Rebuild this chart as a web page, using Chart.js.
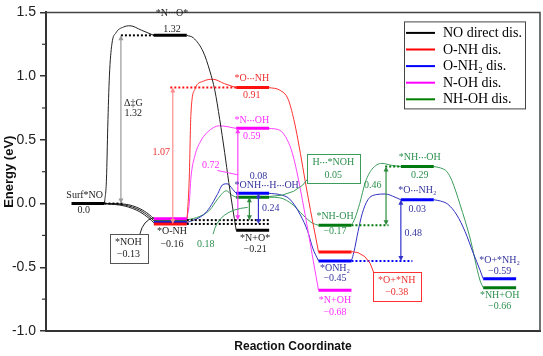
<!DOCTYPE html>
<html><head><meta charset="utf-8">
<script src="https://cdn.jsdelivr.net/npm/chart.js@4.4.0/dist/chart.umd.min.js"></script>
<style>html,body{margin:0;padding:0;background:#fff}</style>
</head><body>
<canvas id="c" width="543" height="356"></canvas>
<script>
// ---------- DATA (reaction coordinate stage, energy in eV) ----------
const yTicks = [-1.0, -0.5, 0.0, 0.5, 1.0, 1.5];
const legendNames = ["NO direct dis.", "O-NH dis.", "O-NH\u2082 dis.", "N-OH dis.", "NH-OH dis."];

const blackLevels   = [[0, 0.0], [1, 1.32], [2, -0.21]];
const redLevels     = [[1, -0.16], [2, 0.91], [3, -0.38]];
const blueLevels    = [[1, -0.15], [2, 0.08], [3, -0.45], [4, 0.03], [5, -0.59]];
const magentaLevels = [[1, -0.12], [2, 0.59], [3, -0.68]];
const greenLevels   = [[1, -0.13], [2, 0.05], [3, -0.17], [4, 0.29], [5, -0.66]];

// connecting curves
const blackRise = [[0.2,0],[0.225,0.2],[0.24,0.6],[0.26,1.0],[0.29,1.25],[0.34,1.34],[0.43,1.385],[0.51,1.395],[0.65,1.36],[0.8,1.32]];
const blackFall = [[1.2,1.32],[1.28,1.30],[1.40,1.19],[1.48,1.04],[1.54,0.89],[1.60,0.66],[1.66,0.40],[1.71,0.165],[1.8,-0.21]];
const blackDown1 = [[0.2,0],[0.45,-0.005],[0.63,-0.04],[0.74,-0.085],[0.8,-0.12]];
const blackDown2 = [[0.2,0],[0.45,-0.012],[0.63,-0.052],[0.74,-0.1],[0.8,-0.135]];
const blackDown3 = [[0.2,0],[0.45,-0.02],[0.63,-0.065],[0.74,-0.115],[0.8,-0.15]];
const redRise = [[1.2,-0.16],[1.23,0.2],[1.25,0.7],[1.30,0.9],[1.40,0.96],[1.52,0.975],[1.66,0.94],[1.8,0.91]];
const redFall = [[2.2,0.91],[2.33,0.89],[2.43,0.82],[2.50,0.66],[2.55,0.5],[2.67,0.06],[2.8,-0.38]];
const magentaRise = [[1.2,-0.12],[1.23,0.0],[1.25,0.2],[1.30,0.38],[1.36,0.48],[1.45,0.56],[1.60,0.61],[1.8,0.59]];
const magentaFall = [[2.2,0.59],[2.33,0.575],[2.42,0.5],[2.48,0.40],[2.54,0.24],[2.8,-0.68]];
const blueRise1 = [[1.2,-0.15],[1.40,-0.09],[1.48,-0.03],[1.57,0.07],[1.64,0.15],[1.69,0.155],[1.76,0.11],[1.8,0.08]];
const blueFall1 = [[2.2,0.08],[2.33,0.07],[2.45,0.035],[2.58,-0.09],[2.67,-0.22],[2.73,-0.35],[2.8,-0.45]];
const blueRise2 = [[3.2,-0.45],[3.23,-0.38],[3.28,-0.22],[3.33,-0.08],[3.40,0.03],[3.50,0.07],[3.61,0.075],[3.73,0.05],[3.8,0.03]];
const blueFall2 = [[4.2,0.03],[4.28,0.02],[4.37,-0.005],[4.48,-0.09],[4.58,-0.22],[4.68,-0.39],[4.76,-0.52],[4.8,-0.59]];
const greenRise1 = [[1.2,-0.13],[1.36,-0.10],[1.48,-0.05],[1.58,0.04],[1.68,0.1],[1.75,0.065],[1.8,0.05]];
const greenFall1 = [[2.2,0.05],[2.33,0.045],[2.49,-0.01],[2.61,-0.09],[2.73,-0.155],[2.8,-0.17]];
const greenRise2 = [[3.2,-0.17],[3.24,-0.12],[3.30,0.0],[3.37,0.17],[3.45,0.27],[3.57,0.315],[3.69,0.30],[3.8,0.29]];
const greenFall2 = [[4.2,0.29],[4.28,0.28],[4.36,0.25],[4.42,0.18],[4.52,-0.01],[4.64,-0.27],[4.76,-0.6],[4.8,-0.66]];

// dotted reference lines [x0, x1, energy]
const blackDots = [[0.2,0.43,0],[0.40,0.8,1.32],[1.2,2.2,-0.13],[1.2,2.2,-0.16]];
const redDots = [[1.0,1.8,0.91]];
const greenDots = [[3.2,3.65,-0.17],[3.61,3.8,0.29]];
const blueDots = [[3.2,3.94,-0.45]];

// energy-span arrows [x, fromE, toE]
const grayArrows = [[0.40,0.0,1.32]];
const redArrows = [[1.03,-0.16,0.91]];
const magentaArrows = [[1.82,-0.13,0.59]];
const greenArrows = [[1.96,-0.13,0.05],[3.62,-0.17,0.29]];
const blueArrows = [[2.07,-0.16,0.08],[3.80,-0.45,0.03]];

// text annotations [text, x, E]
const blackTexts = [["Surf*NO",-0.04,0.065],["0.0",-0.05,-0.05],["*N\u00b7\u00b7\u00b7O*",1.02,1.495],["1.32",1.02,1.37],
  ["\u0394\u2021G",0.55,0.79],["1.32",0.55,0.71],["*O-NH",1.02,-0.22],["\u22120.16",1.02,-0.32],
  ["*NOH",0.49,-0.305],["\u22120.13",0.49,-0.40],["*N+O*",2.03,-0.27],["\u22120.21",2.03,-0.36]];
const redTexts = [["1.07",0.89,0.40],["*O\u00b7\u00b7\u00b7NH",1.99,0.98],["0.91",1.99,0.85],["*O+*NH",3.75,-0.605],["\u22120.38",3.75,-0.70]];
const magentaTexts = [["*N\u00b7\u00b7\u00b7OH",1.99,0.65],["0.59",1.99,0.53],["0.72",1.49,0.30],["*N+OH",3.0,-0.76],["\u22120.68",3.0,-0.855]];
const blueTexts = [["0.08",2.07,0.21],["*ONH\u00b7\u00b7\u00b7H\u00b7\u00b7\u00b7OH",2.17,0.14],["0.24",2.22,-0.035],["*ONH\u2082",3.0,-0.51],["\u22120.45",3.0,-0.59],
  ["*O\u00b7\u00b7\u00b7NH\u2082",4.0,0.10],["0.03",4.0,-0.045],["0.48",3.95,-0.235],["*O+*NH\u2082",5.0,-0.445],["\u22120.59",5.0,-0.53]];
const greenTexts = [["0.18",1.43,-0.32],["H\u00b7\u00b7\u00b7*NOH",2.98,0.32],["0.05",2.98,0.225],["*NH-OH",3.0,-0.10],["\u22120.17",3.0,-0.22],
  ["*NH\u00b7\u00b7\u00b7OH",4.03,0.36],["0.29",4.03,0.225],["0.46",3.46,0.14],["*NH+OH",5.0,-0.72],["\u22120.66",5.0,-0.81]];

// callout boxes [x, E line1, E line2] and leaders [x0,E0, cx,cE, x1,E1]
const blackBoxes = [[0.49,-0.305,-0.40]];
const redBoxes = [[3.75,-0.605,-0.70]];
const greenBoxes = [[2.98,0.32,0.225]];
const blackLeaders = [[0.63,-0.24,0.67,-0.13,0.80,-0.11]];
const redLeaders = [[3.18,-0.375,3.40,-0.375,3.47,-0.54]];
const magentaLeaders = [[1.57,0.26,1.72,0.24,1.82,0.225]];
const greenLeaders = [[1.52,-0.24,1.58,-0.05,1.94,-0.03],[2.2,0.055,2.55,0.06,2.69,0.21]];

// ---------- STYLE ----------
const C = {
  black:{level:'#000000',thin:'#222222',text:'#222222',arrow:'#999999',legend:'#000000'},
  red:{level:'#ff1010',thin:'#ff3030',text:'#ee3030',arrow:'#ff8c8c',legend:'#ff0000'},
  blue:{level:'#0000ff',thin:'#3030c0',text:'#3535a0',arrow:'#3333cc',legend:'#0000ff'},
  magenta:{level:'#ff00ff',thin:'#ff40ff',text:'#ff30ff',arrow:'#ff40ff',legend:'#ff00ff'},
  green:{level:'#007a10',thin:'#3c9c5c',text:'#2e9050',arrow:'#2e8b3e',legend:'#008000'}
};
const LABEL_FONT = "10px 'Liberation Serif', serif";
const DOT_FONT = "bold 8px 'Liberation Serif', serif";

const datasets = [];
function pts(a){ return a.map(p => ({x:p[0], y:p[1]})); }
function addLevels(levels, col){
  levels.forEach(([s,e]) => datasets.push({data:[{x:s-0.2,y:e},{x:s+0.2,y:e}], borderColor:col, borderWidth:3, pointRadius:0, order:0, borderCapStyle:'butt'}));
}
function addCurve(a, col){
  datasets.push({data:pts(a), borderColor:col, borderWidth:1, pointRadius:0, cubicInterpolationMode:'monotone', order:2});
}
function addDots(list, col){
  list.forEach(([x0,x1,e]) => datasets.push({data:[{x:x0,y:e},{x:x1,y:e}], borderColor:col, borderWidth:2, borderDash:[2,2], pointRadius:0, order:1}));
}
addLevels(blackLevels, C.black.level); addLevels(redLevels, C.red.level); addLevels(blueLevels, C.blue.level);
addLevels(magentaLevels, C.magenta.level); addLevels(greenLevels, C.green.level);
[blackRise, blackFall, blackDown1, blackDown2, blackDown3].forEach(a => addCurve(a, C.black.thin));
[redRise, redFall].forEach(a => addCurve(a, C.red.thin));
[magentaRise, magentaFall].forEach(a => addCurve(a, C.magenta.thin));
[blueRise1, blueFall1, blueRise2, blueFall2].forEach(a => addCurve(a, C.blue.thin));
[greenRise1, greenFall1, greenRise2, greenFall2].forEach(a => addCurve(a, C.green.thin));
addDots(blackDots, '#000'); addDots(redDots, C.red.level); addDots(greenDots, C.green.level); addDots(blueDots, C.blue.level);

// split a label into normal runs and tight middle-dot runs
function runs(t){ return t.split(/(\u00b7+)/).filter(s => s.length).map(s => ({s, dot: s[0] === '\u00b7'})); }
function textWidth(ctx, t){
  let w = 0;
  runs(t).forEach(r => { ctx.font = r.dot ? DOT_FONT : LABEL_FONT; w += ctx.measureText(r.s).width; });
  return w;
}
function drawLabel(ctx, t, cx, cy){
  let x = cx - textWidth(ctx, t) / 2;
  ctx.textAlign = 'left';
  runs(t).forEach(r => {
    ctx.font = r.dot ? DOT_FONT : LABEL_FONT;
    ctx.fillText(r.s, x, cy);
    x += ctx.measureText(r.s).width;
  });
}

const annot = {
  id:'annot',
  afterDraw(chart){
    const ctx = chart.ctx, xs = chart.scales.x, ys = chart.scales.y, ca = chart.chartArea;
    const X = v => xs.getPixelForValue(v), Y = v => ys.getPixelForValue(v);
    ctx.save();
    // frame top/right
    ctx.strokeStyle = '#444'; ctx.lineWidth = 1.5;
    ctx.beginPath(); ctx.moveTo(ca.left, ca.top); ctx.lineTo(ca.right, ca.top); ctx.lineTo(ca.right, ca.bottom); ctx.stroke();
    // minor ticks
    ctx.lineWidth = 1.2; ctx.strokeStyle = '#333';
    for (let i = 0; i < yTicks.length - 1; i++){
      const y = Y((yTicks[i] + yTicks[i+1]) / 2);
      ctx.beginPath(); ctx.moveTo(ca.left - 4, y); ctx.lineTo(ca.left, y); ctx.stroke();
    }
    // arrows
    function arrows(list, col){
      list.forEach(([x,e0,e1]) => {
        const px = X(x), y0 = Y(e0), y1 = Y(e1);
        ctx.strokeStyle = col; ctx.fillStyle = col; ctx.lineWidth = 1.2;
        ctx.beginPath(); ctx.moveTo(px, y1 + 4); ctx.lineTo(px, y0 - 4); ctx.stroke();
        ctx.beginPath(); ctx.moveTo(px, y1); ctx.lineTo(px - 2.5, y1 + 5); ctx.lineTo(px + 2.5, y1 + 5); ctx.closePath(); ctx.fill();
        ctx.beginPath(); ctx.moveTo(px, y0); ctx.lineTo(px - 2.5, y0 - 5); ctx.lineTo(px + 2.5, y0 - 5); ctx.closePath(); ctx.fill();
      });
    }
    arrows(grayArrows, C.black.arrow); arrows(redArrows, C.red.arrow); arrows(magentaArrows, C.magenta.arrow);
    arrows(greenArrows, C.green.arrow); arrows(blueArrows, C.blue.arrow);
    // leaders
    function leaders(list, col){
      ctx.strokeStyle = col; ctx.lineWidth = 1;
      list.forEach(([x0,e0,cx,ce,x1,e1]) => {
        ctx.beginPath(); ctx.moveTo(X(x0), Y(e0)); ctx.quadraticCurveTo(X(cx), Y(ce), X(x1), Y(e1)); ctx.stroke();
      });
    }
    leaders(blackLeaders, '#222'); leaders(redLeaders, C.red.thin); leaders(magentaLeaders, C.magenta.thin); leaders(greenLeaders, C.green.thin);
    // texts
    ctx.textBaseline = 'middle';
    function texts(list, col){ ctx.fillStyle = col; list.forEach(([t,x,e]) => drawLabel(ctx, t, X(x), Y(e))); }
    function boxes(list, textList, col){
      list.forEach(([x,e1,e2]) => {
        let w = 0;
        textList.forEach(([t,tx,te]) => { if (tx === x && (te === e1 || te === e2)) w = Math.max(w, textWidth(ctx, t)); });
        w += 11;
        const top = Y(e1) - 8.5, bot = Y(e2) + 8.5;
        ctx.strokeStyle = col; ctx.lineWidth = 1; ctx.fillStyle = '#fff';
        ctx.fillRect(Math.round(X(x) - w/2) + 0.5, Math.round(top) + 0.5, Math.round(w), Math.round(bot - top));
        ctx.strokeRect(Math.round(X(x) - w/2) + 0.5, Math.round(top) + 0.5, Math.round(w), Math.round(bot - top));
      });
    }
    boxes(blackBoxes, blackTexts, '#555'); boxes(redBoxes, redTexts, C.red.thin); boxes(greenBoxes, greenTexts, C.green.thin);
    texts(blackTexts, C.black.text); texts(redTexts, C.red.text); texts(magentaTexts, C.magenta.text);
    texts(blueTexts, C.blue.text); texts(greenTexts, C.green.text);
    // legend
    const lx = ca.right - 136, ly = ca.top + 9, lw = 121, lh = 87;
    ctx.fillStyle = '#fff'; ctx.fillRect(lx, ly, lw, lh);
    ctx.strokeStyle = '#444'; ctx.lineWidth = 1; ctx.strokeRect(lx + 0.5, ly + 0.5, lw, lh);
    const legCols = [C.black.legend, C.red.legend, C.blue.legend, C.magenta.legend, C.green.legend];
    ctx.font = "14px 'Liberation Serif', serif"; ctx.textAlign = 'left';
    legendNames.forEach((n, i) => {
      const y = ly + 11.5 + i * 16.6;
      ctx.strokeStyle = legCols[i]; ctx.lineWidth = 2;
      ctx.beginPath(); ctx.moveTo(lx + 2, y); ctx.lineTo(lx + 31, y); ctx.stroke();
      ctx.fillStyle = '#000'; ctx.fillText(n, lx + 39, y + 0.5);
    });
    ctx.restore();
  }
};

new Chart(document.getElementById('c'), {
  type: 'line',
  data: { datasets },
  options: {
    responsive: false, animation: false, devicePixelRatio: 1,
    layout: { padding: { top: 7, right: 3, left: 0, bottom: 0 } },
    plugins: { legend: { display: false }, tooltip: { enabled: false } },
    elements: { line: { capBezierPoints: true } },
    scales: {
      x: {
        type: 'linear', min: -0.51, max: 5.49,
        ticks: { display: false },
        grid: { display: false },
        border: { display: true, width: 2, color: '#333' },
        title: { display: true, text: 'Reaction Coordinate', font: { family: "'Liberation Sans', Arial, sans-serif", size: 12, weight: 'bold' }, color: '#111', padding: { top: 0, bottom: 2 } },
        afterFit: s => { s.height = 25; }
      },
      y: {
        type: 'linear', min: yTicks[0], max: yTicks[yTicks.length - 1],
        afterBuildTicks: s => { s.ticks = yTicks.map(v => ({ value: v })); },
        ticks: { font: { family: "'Liberation Sans', Arial, sans-serif", size: 14 }, color: '#222', padding: 4,
                 callback: v => Number(v).toFixed(1) },
        grid: { display: true, drawOnChartArea: false, drawTicks: true, tickLength: 6, color: '#333', lineWidth: 1.5 },
        border: { display: true, width: 2, color: '#333' },
        title: { display: true, text: 'Energy (eV)', font: { family: "'Liberation Sans', Arial, sans-serif", size: 13, weight: 'bold' }, color: '#111', padding: { top: 2, bottom: 0 } },
        afterFit: s => { s.width = 46; }
      }
    }
  },
  plugins: [annot]
});
</script>
</body></html>
